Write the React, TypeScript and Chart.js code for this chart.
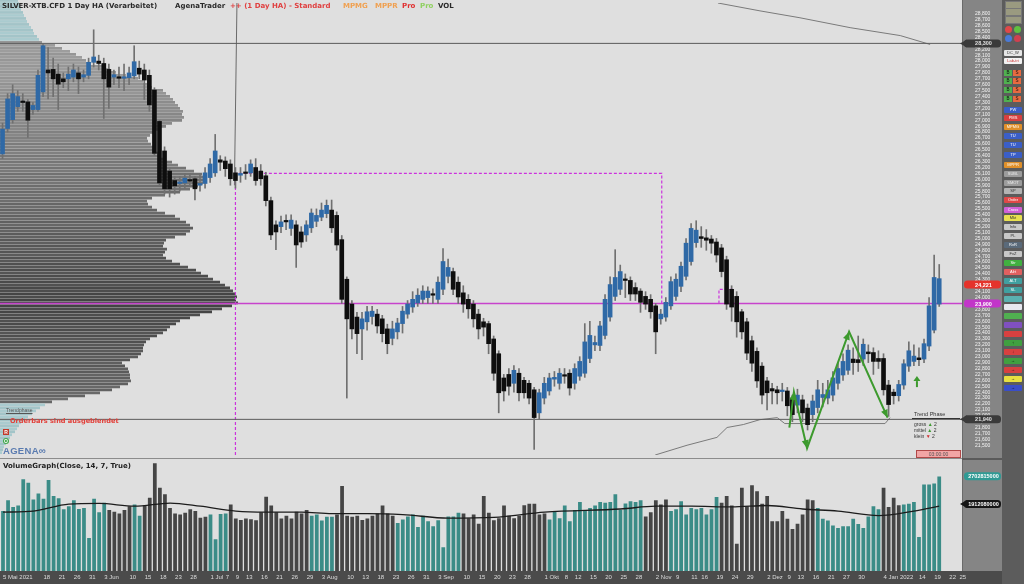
import React, { useEffect, useRef } from 'react';
import { Chart, registerables } from 'chart.js';

Chart.register(...registerables);

const FONT = '"Liberation Sans", Arial, sans-serif';
const TITLE_FONT = '"DejaVu Sans", Verdana, sans-serif';
const SLOTS = 190;
const PRICE_MIN = 21337;
const PRICE_MAX = 28983;
const VOL_MAX = 3.17e9;

const BG = '#dfdfdf';
const AXIS_BG = '#858585';
const TOOL_BG = '#5c5c5c';
const STRIP_BG = '#4b4b4b';
const BLUE = '#2f69a6';
const BLACK = '#0e0e0e';
const WICK = '#707070';
const TEAL = '#3b8c87';
const DARK = '#454545';
const GREEN = '#3d9a2e';
const MAGENTA = '#c743cc';

// ---- x axis tick labels: [slot index, text]
const xTicks = [
  [0, '5 Mai 2021'], [8, '18'], [11, '21'], [14, '26'], [17, '31'], [20, '3 Jun'], [25, '10'], [28, '15'], [31, '18'], [34, '23'], [37, '28'],
  [41, '1 Jul'], [44, '7'], [46, '9'], [48, '13'], [51, '16'], [54, '21'], [57, '26'], [60, '29'],
  [63, '3 Aug'], [68, '10'], [71, '13'], [74, '18'], [77, '23'], [80, '26'], [83, '31'],
  [86, '3 Sep'], [91, '10'], [94, '15'], [97, '20'], [100, '23'], [103, '28'],
  [107, '1 Okt'], [111, '8'], [113, '12'], [116, '15'], [119, '20'], [122, '25'], [125, '28'],
  [129, '2 Nov'], [133, '9'], [136, '11'], [138, '16'], [141, '19'], [144, '24'], [147, '29'],
  [151, '2 Dez'], [155, '9'], [157, '13'], [160, '16'], [163, '21'], [166, '27'], [169, '30'],
  [174, '4 Jan 2022'], [181, '14'], [184, '19'], [187, '22'], [189, '25'],
];

// ---- Heikin-Ashi candles
const opens = [
  26430, 26860, 27010, 27230, 27320, 27310, 27180, 27180, 27480, 27850,
  27860, 27780, 27700, 27700, 27730, 27800, 27730, 27760, 27980, 28000,
  27960, 27860, 27730, 27730, 27710, 27720, 27750, 27880, 27850, 27760,
  27510, 26980, 26480, 26140, 25980, 25930, 25940, 25990, 26010, 25900,
  25930, 26030, 26110, 26330, 26310, 26260, 26110, 26070, 26110, 26110,
  26200, 26140,
  26060, 25640, 25230, 25200, 25290, 25170, 25230, 25110, 25060, 25180,
  25290, 25360, 25420, 25480, 25390, 24980, 24310, 23890, 23670, 23470,
  23590, 23680, 23720, 23640, 23470, 23310, 23420, 23560, 23720, 23840,
  23910, 23970, 24000, 24060, 23970, 24140, 24360, 24440, 24260, 24080,
  23970, 23890, 23720, 23590, 23560, 23300, 23050, 22640, 22700, 22550,
  22720, 22600, 22550, 22440, 22050, 22300, 22420, 22620, 22550, 22690,
  22720, 22550, 22670,
  22720, 22970, 23200, 23190, 23360, 23670, 24020, 24140, 24300, 24290,
  24170, 24110, 24020, 23970, 23860, 23640, 23670, 23860, 24020, 24190,
  24360, 24610, 24930, 25030, 25010, 24990, 24940, 24840, 24640, 24140,
  24020, 23760, 23590, 23270, 23090, 22840, 22590, 22460, 22440, 22410,
  22420, 22300, 22180, 22270, 22130, 22020, 22140, 22310, 22300, 22350,
  22550, 22690, 22770, 22960, 22950, 22960, 23080, 23070, 22970, 22970,
  22520, 22400, 22340, 22520, 22840, 22920, 22980, 22960, 23180, 23450,
  23890,
];
const closes = [
  26850, 27360, 27450, 27400, 27300, 27000, 27250, 27760, 28260, 27800,
  27700, 27610, 27650, 27780, 27850, 27700, 27770, 27980, 28070, 27960,
  27700, 27560, 27770, 27710, 27730, 27800, 27990, 27780, 27680, 27260,
  26440, 25940, 25840, 25840, 25890, 25940, 26020, 25970, 25840, 25930,
  26110, 26260, 26480, 26290, 26180, 26010, 25980, 26100, 26100, 26260,
  25980, 26010,
  25640, 25060, 25110, 25280, 25280, 25310, 24890, 24940, 25230, 25430,
  25390, 25480, 25560, 25180, 24890, 23970, 23640, 23470, 23390, 23640,
  23760, 23770, 23520, 23390, 23220, 23470, 23570, 23770, 23890, 23970,
  24040, 24110, 24110, 24040, 24260, 24610, 24510, 24140, 24010, 23890,
  23810, 23640, 23470, 23500, 23220, 22720, 22390, 22420, 22500, 22770,
  22390, 22390, 22300, 21970, 22390, 22550, 22640, 22650, 22720, 22670,
  22470, 22800, 22920,
  23250, 23360, 23240, 23520, 23970, 24220, 24340, 24440, 24290, 24060,
  24060, 23920, 23890, 23760, 23420, 23720, 23920, 24270, 24310, 24530,
  24920, 25170, 25140, 25000, 24970, 24920, 24720, 24440, 23890, 23840,
  23590, 23420, 23060, 22890, 22590, 22350, 22390, 22420, 22390, 22420,
  22170, 22020, 22350, 22050, 21850, 22250, 22440, 22360, 22440, 22640,
  22800, 22920, 23110, 22900, 22900, 23210, 23050, 22920, 22920, 22440,
  22190, 22340, 22530, 22880, 23100, 23010, 22950, 23220, 23860, 24340,
  24320,
];
const highs = [
  26950, 27450, 27600, 27500, 27450, 27350, 27300, 27850, 28280, 28230,
  28050, 27950, 27800, 27900, 27950, 27900, 27850, 28050, 28530, 28100,
  28050, 27950, 27850, 27900, 27950, 27900, 28260, 28000, 27950, 27850,
  27550, 27000, 26550, 26200, 26050, 26050, 26100, 26100, 26050, 26100,
  26200, 26350, 26760, 26400, 26380, 26330, 26200, 26200, 26250, 26330,
  26350, 26250,
  26120, 25700, 25300, 25380, 25400, 25400, 25300, 25200, 25300, 25500,
  25500, 25600, 25650, 25650, 25450, 25050, 24350, 23950, 23750, 23750,
  23850, 23850, 23800, 23700, 23550, 23600, 23650, 23850, 23950, 24100,
  24150, 24200, 24180, 24150, 24350, 24830, 24650, 24500, 24350, 24200,
  24050, 23950, 23800, 23650, 23600, 23350, 23100, 22700, 22800, 22850,
  22800, 22650, 22600, 22480, 22450, 22650, 22720, 22750, 22800, 22800,
  22780, 22880, 23000,
  23560, 23600, 23350, 23600, 24050, 24350, 24810, 24550, 24400, 24350,
  24250, 24150, 24100, 24050, 23900, 23800, 24000, 24350, 24400, 24600,
  25000, 25250, 25300, 25200, 25150, 25050, 25000, 24900, 24700, 24200,
  24100, 23800, 23650, 23350, 23150, 22900, 22650, 22550, 22500, 22550,
  22480, 22350, 22450, 22350, 22200, 22350, 22600, 22550, 22600, 22750,
  22900, 23050, 23200, 23150, 23350, 23300, 23200, 23150, 23100, 23050,
  22600, 22450, 22600, 22950, 23250, 23200, 23150, 23300, 24000, 24720,
  24560,
];
const lows = [
  26350, 26800, 26950, 27150, 27150, 26710, 27100, 27150, 27400, 27360,
  27400, 27180, 27550, 27500, 27650, 27450, 27650, 27700, 27900, 27850,
  27030, 27200, 27600, 27550, 27500, 27600, 27700, 27700, 27350, 27150,
  26400, 25900, 25750, 25700, 25750, 25800, 25850, 25900, 25650, 25800,
  25850, 25950, 26050, 26150, 26050, 25900, 25850, 25950, 26000, 26050,
  25900, 25900,
  25550, 24980, 24810, 25100, 25150, 25050, 24510, 24850, 24950, 25100,
  25200, 25300, 25350, 25100, 24800, 23900, 22300, 23300, 23050, 22950,
  23450, 23550, 23400, 23250, 23050, 23200, 23300, 23400, 23650, 23750,
  23850, 23900, 23900, 23900, 23900, 24050, 24250, 24050, 23900, 23750,
  23650, 23500, 23300, 23350, 23050, 22600, 22050, 22250, 22350, 22400,
  22250, 22300, 22200, 21430, 21950, 22200, 22350, 22500, 22450, 22550,
  22350, 22450, 22600,
  22650, 22900, 23100, 23100, 23300, 23600, 23950, 24050, 24000, 23950,
  23950, 23750, 23800, 23650, 23050, 23550, 23600, 23800, 23950, 24100,
  24300, 24550, 24850, 24850, 24800, 24750, 24600, 24350, 23800, 23600,
  23330, 23300, 22950, 22750, 22480, 22200, 22100, 22200, 22200, 22250,
  22000, 21900, 22050, 21900, 21760, 21900, 22050, 22150, 22200, 22250,
  22450, 22600, 22700, 22700, 22750, 22850, 22900, 22700, 22800, 22350,
  21990, 22200, 22250, 22450, 22750, 22850, 22850, 22900, 23100, 23400,
  23850,
];

// ---- Volume (millions)
const volumesM = [
  1710, 2020, 1830, 1870, 2620, 2520, 2040, 2210, 2060, 2600,
  2140, 2080, 1760, 1850, 2020, 1770, 1800, 940, 2060, 1680,
  1950, 1740, 1690, 1640, 1740, 1850, 1900, 1580, 1870, 2090,
  3080, 2380, 2190, 1800, 1640, 1610, 1660, 1760, 1710, 1520,
  1550, 1610, 910, 1630, 1640, 1900, 1500, 1460, 1500, 1480,
  1450, 1680, 2120, 1870, 1680, 1500, 1580, 1500, 1690, 1640,
  1740, 1580, 1610, 1440, 1550, 1550, 1610, 2430, 1580, 1550,
  1580, 1460, 1500, 1580, 1640, 1870, 1640, 1580, 1370,
  1470, 1560, 1610, 1260, 1580, 1420, 1280, 1450, 680, 1560,
  1560, 1660, 1640, 1510, 1610, 1350, 2140, 1660, 1450, 1510,
  1870, 1580, 1510, 1580, 1880, 1920, 1920, 1610, 1640, 1470,
  1710, 1510, 1870, 1420, 1740, 1970, 1710, 1800, 1870, 1970,
  1950, 1970, 2190, 1740, 1930, 1990, 1970, 2020, 1560, 1680,
  2020, 1900, 2040, 1710, 1760, 1990, 1610, 1800, 1760, 1800,
  1610, 1760, 2110, 1950, 2140, 1870, 780, 2380, 1850, 2450,
  2280, 1920, 2140, 1420, 1420, 1710, 1490, 1200, 1350, 1610,
  2040, 2020, 1800, 1490, 1440, 1300, 1230, 1280, 1280, 1490,
  1340, 1230, 1560, 1850, 1760, 2380, 1830, 2090, 1880, 1900,
  1920, 1970, 970, 2470, 2470, 2500, 2700,
];
// runs of [count, 1 = rising (teal) / 0 = falling (dark)]
const volumeRuns = [[21, 1], [5, 0], [2, 1], [13, 0], [4, 1], [16, 0], [5, 1], [12, 0], [13, 1], [17, 0], [19, 1], [5, 0], [10, 1], [19, 0], [13, 1], [4, 0], [8, 1]];
// volume average line: [bar index, millions]
const volumeAvg = [
  [0, 1680], [6, 1710], [13, 1910], [19, 1930], [26, 1850], [33, 1940], [39, 1850], [46, 1710], [52, 1680],
  [59, 1680], [65, 1640], [72, 1640], [79, 1610], [88, 1510], [97, 1530], [107, 1680], [122, 1770], [129, 1850],
  [136, 1850], [144, 1830], [151, 1870], [158, 1770], [165, 1710], [173, 1580], [180, 1710], [185, 1850],
];

// ---- Volume profile (relative volume per 50-point price bin, from 28950 downwards)
const PROFILE_TOP = 28950;
const PROFILE_STEP = 50;
const profileVolume = [
  18, 19, 20, 21, 23, 24, 26, 27, 29, 31, 33, 34, 37, 39,
  42, 55, 62, 70, 76, 82, 86, 90, 104, 110, 116, 126, 138, 143, 148, 152,
  163, 166, 170, 173, 175, 178, 180, 183, 182, 184, 182, 172, 166, 158, 154, 150,
  147, 148, 151, 153, 156, 158, 160, 166, 172, 178, 186, 194, 202, 204, 205, 203,
  198, 190, 180, 165, 152, 147, 148, 152, 157, 165, 175, 180, 186, 190, 193, 190,
  186, 175, 166, 164, 163, 167, 165, 163, 166, 172, 180, 188, 196, 201, 208, 213,
  220, 225, 230, 233, 236, 237, 236, 238, 232, 222, 212, 200, 190, 180, 176, 170,
  167, 163, 157, 150, 146, 144, 143, 143, 141, 138, 130, 122, 125, 128, 129, 130,
  130, 131, 128, 120, 112, 100, 85, 68, 52, 45, 40, 36, 32, 28, 25, 21,
  19, 17, 15, 12, 10, 8, 6, 4, 3, 2,
];
const POC_BIN = 101;

// ---- Levels and drawings (x in bar-slot units, y in price)
const levelHigh = 28300;
const levelLow = 21940;
const levelPoc = 23900;
const lastPrice = 24221;
const lastVolume = 2702815000;
const lastVolumeAvg = 1912080000;
const zigzag = [[155.4, 21802], [156.3, 22403], [158.9, 21452], [167.2, 23422], [174.8, 21969]];
const upArrow = [180.6, 22570];
const dashedBox = [[46, PRICE_MIN], [46, 26100], [130.2, 26100], [130.2, 23900]];
const dashedSmall = [[141.5, 23900], [141.5, 24140], [144.5, 24140]];
const cursorLine = [[46.3, PRICE_MAX], [45.8, 25900]];
const topLine = [[141.3, 28983], [149.6, 28850], [157.5, 28733], [167.4, 28566], [177.3, 28432], [183.2, 28282]];
const trailLine = [[128.9, 21337], [135.2, 21502], [141.1, 21635], [143.1, 21802], [146.3, 21852], [149.6, 21935], [153.0, 21969], [154.5, 21869], [174.3, 21869], [175.3, 21969]];

const toolbar = [
  [50, '#e6e6e6', 'DC_W', '#333'], [58, '#f2f2f2', 'Lab-tri', '#c33'],
  [107, '#3a5ec8', 'PW', '#fff'], [115, '#d84040', 'PMS', '#fff'], [124, '#e0902a', 'MPMG', '#fff'],
  [133, '#3a5ec8', 'TU', '#fff'], [142, '#3a5ec8', 'TU', '#fff'], [152, '#3a5ec8', 'TP', '#fff'],
  [162, '#e0902a', 'MPPR', '#fff'], [171, '#9c9c9c', 'SUBL', '#eee'], [180, '#9c9c9c', 'SMOT', '#eee'],
  [188, '#b4b4b4', 'SP', '#333'], [197, '#e04848', 'Order', '#fff'], [207, '#d060d8', 'Cross', '#fff'],
  [215, '#e8e050', 'Mkt', '#333'], [224, '#c8c8c8', 'Info', '#333'], [233, '#c8c8c8', 'PL', '#333'],
  [242, '#5a6a7a', 'RvR', '#fff'], [251, '#c8c8c8', 'FvZ', '#333'], [260, '#40b040', 'Str', '#fff'],
  [269, '#e06060', 'Alrt', '#fff'], [278, '#40a0a0', 'ALT', '#fff'], [287, '#40a0a0', 'SL', '#fff'],
  [296, '#5ab0b0', '', '#fff'], [304, '#e8e8f0', '', '#333'], [313, '#50b050', '', '#fff'],
  [322, '#8050c0', '', '#fff'], [331, '#d84040', '', '#fff'], [340, '#40a040', '↑', '#111'],
  [349, '#d84040', '↓', '#111'], [358, '#40a040', '→', '#111'], [367, '#d84040', '→', '#111'],
  [376, '#e8e040', '→', '#111'], [385, '#3a4ec8', '→', '#111'],
];
const toolbarPairs = [70, 78, 87, 96];

function pill(ctx, x1, x2, y, bg, fg, text, pointer) {
  const h = 8;
  ctx.save();
  ctx.fillStyle = bg;
  ctx.beginPath();
  ctx.roundRect(x1, y - h / 2, x2 - x1, h, 3.5);
  ctx.fill();
  if (pointer) {
    ctx.beginPath();
    ctx.moveTo(x1 - 4, y);
    ctx.lineTo(x1 + 3, y - h / 2);
    ctx.lineTo(x1 + 3, y + h / 2);
    ctx.closePath();
    ctx.fill();
  }
  ctx.fillStyle = fg;
  ctx.font = `bold 5.5px ${FONT}`;
  ctx.textAlign = 'center';
  ctx.textBaseline = 'middle';
  ctx.fillText(text, (x1 + x2) / 2 + 1, y + 0.5);
  ctx.restore();
}

const toXY = (arr) => arr.map(([x, y]) => ({ x, y }));

// hidden tick marks used only to push the labels into the middle of the axis column
const offsetGrid = (len) => ({ display: true, drawOnChartArea: false, drawTicks: true, tickLength: len, tickColor: 'rgba(0,0,0,0)', color: 'rgba(0,0,0,0)' });

export default function App() {
  const profileRef = useRef(null);
  const mainRef = useRef(null);
  const volRef = useRef(null);

  useEffect(() => {
    Chart.defaults.font.family = FONT;
    const slotLabels = Array.from({ length: SLOTS }, () => '');
    xTicks.forEach(([i, t]) => { slotLabels[i] = t; });

    const charts = [];

    // ----- profile
    const profileColors = profileVolume.map((_, k) => {
      const p = PROFILE_TOP - k * PROFILE_STEP;
      const stripe = k % 2 === 0 ? 0 : 7;
      if (p >= 28300 || p < 22250) return `rgb(${163 + stripe},${196 + stripe},${200 + stripe})`;
      const g = Math.round(Math.min(150, 66 + Math.abs(k - POC_BIN) * 1.1) + stripe);
      return `rgb(${g},${g},${g})`;
    });
    charts.push(new Chart(profileRef.current, {
      type: 'bar',
      data: {
        datasets: [{
          data: profileVolume.map((v, k) => ({ x: v, y: PROFILE_TOP + PROFILE_STEP / 2 - k * PROFILE_STEP })),
          backgroundColor: profileColors,
          borderWidth: 0,
          barPercentage: 0.92,
          categoryPercentage: 1,
        }],
      },
      options: {
        indexAxis: 'y', animation: false, responsive: false, devicePixelRatio: 1, events: [],
        layout: { padding: 0 },
        plugins: { legend: { display: false }, tooltip: { enabled: false } },
        scales: {
          x: { type: 'linear', min: 0, max: 962, display: false, offset: false },
          y: { type: 'linear', min: PRICE_MIN, max: PRICE_MAX, display: false, offset: false },
        },
      },
    }));

    // ----- main price chart
    const line = (label, pts, color, width, dash, order) => ({
      type: 'line', label, data: toXY(pts), xAxisID: 'x2', yAxisID: 'y',
      borderColor: color, borderWidth: width, borderDash: dash, pointRadius: 0, tension: 0, order, fill: false,
    });
    const mainPlugin = {
      id: 'mainDecor',
      afterDatasetsDraw(chart) {
        const ctx = chart.ctx;
        const idx = chart.data.datasets.findIndex((d) => d.label === 'zigzag');
        const pts = chart.getDatasetMeta(idx).data;
        ctx.save();
        ctx.fillStyle = GREEN;
        for (let j = 1; j < pts.length; j++) {
          const a = pts[j - 1];
          const b = pts[j];
          const ang = Math.atan2(b.y - a.y, b.x - a.x);
          const L = 8;
          const W = 3.5;
          const c = Math.cos(ang);
          const s = Math.sin(ang);
          ctx.beginPath();
          ctx.moveTo(b.x, b.y);
          ctx.lineTo(b.x - L * c + W * s, b.y - L * s - W * c);
          ctx.lineTo(b.x - L * c - W * s, b.y - L * s + W * c);
          ctx.closePath();
          ctx.fill();
        }
        const ax = chart.scales.x2.getPixelForValue(upArrow[0]);
        const ay = chart.scales.y.getPixelForValue(upArrow[1]);
        ctx.fillRect(ax - 1, ay - 1, 2, 6);
        ctx.beginPath();
        ctx.moveTo(ax, ay - 6);
        ctx.lineTo(ax - 3.5, ay - 1);
        ctx.lineTo(ax + 3.5, ay - 1);
        ctx.closePath();
        ctx.fill();
        ctx.restore();
      },
      afterDraw(chart) {
        const ctx = chart.ctx;
        const x1 = chart.chartArea.right + 2;
        const x2 = chart.width - 1;
        const y = chart.scales.y;
        pill(ctx, x1, x2, y.getPixelForValue(levelHigh), '#3a3a3a', '#e0e0e0', '28,300', true);
        pill(ctx, x1, x2, y.getPixelForValue(lastPrice), '#e5332b', '#ffffff', '24,221', false);
        pill(ctx, x1, x2, y.getPixelForValue(levelPoc), '#c235c9', '#ffffff', '23,900', false);
        pill(ctx, x1, x2, y.getPixelForValue(levelLow), '#3a3a3a', '#e0e0e0', '21,940', true);
      },
    };
    const bodyColors = opens.map((o, i) => (closes[i] >= o ? BLUE : BLACK));
    charts.push(new Chart(mainRef.current, {
      type: 'bar',
      data: {
        labels: slotLabels,
        datasets: [
          line('zigzag', zigzag, GREEN, 2, [], 0),
          { type: 'bar', label: 'body', data: opens.map((o, i) => [o, closes[i]]), backgroundColor: bodyColors, barThickness: 4, minBarLength: 1.5, grouped: false, borderWidth: 0, order: 1 },
          { type: 'bar', label: 'wick', data: lows.map((l, i) => [l, highs[i]]), backgroundColor: WICK, barThickness: 1, grouped: false, borderWidth: 0, order: 2 },
          line('poc', [[-0.5, levelPoc], [SLOTS - 0.5, levelPoc]], MAGENTA, 1.5, [], 3),
          line('high', [[-0.5, levelHigh], [SLOTS - 0.5, levelHigh]], '#5a5a5a', 1, [], 3),
          line('low', [[-0.5, levelLow], [SLOTS - 0.5, levelLow]], '#5a5a5a', 1, [], 3),
          line('box', dashedBox, '#cc33dd', 1.2, [3, 2], 3),
          line('box2', dashedSmall, '#cc33dd', 1.2, [3, 2], 3),
          line('cursor', cursorLine, '#6a6a6a', 1, [], 3),
          line('top', topLine, '#7a7a7a', 1, [], 3),
          line('trail', trailLine, '#7a7a7a', 1, [], 3),
        ],
      },
      options: {
        animation: false, responsive: false, devicePixelRatio: 1, events: [],
        layout: { padding: 0 },
        plugins: { legend: { display: false }, tooltip: { enabled: false } },
        scales: {
          x: { type: 'category', display: false, offset: true },
          x2: { type: 'linear', display: false, offset: false, min: -0.5, max: SLOTS - 0.5, grid: { offset: false } },
          y: {
            type: 'linear', position: 'right', min: PRICE_MIN, max: PRICE_MAX,
            grid: offsetGrid(13), border: { display: false },
            afterFit: (s) => { s.width = 40; },
            ticks: {
              stepSize: 100, autoSkip: false, color: '#f4f4f4', font: { size: 5, family: FONT }, padding: 0, crossAlign: 'center',
              callback: (v) => {
                const n = Number(v);
                return n % 100 === 0 && n >= 21500 && n <= 28900 ? n.toLocaleString('en-US') : null;
              },
            },
          },
        },
      },
      plugins: [mainPlugin],
    }));

    // ----- volume chart
    const volColors = [];
    volumeRuns.forEach(([n, up]) => { for (let i = 0; i < n; i++) volColors.push(up ? TEAL : DARK); });
    const avgData = volumesM.map(() => null);
    volumeAvg.forEach(([i, v]) => { avgData[i] = v * 1e6; });
    const volPlugin = {
      id: 'volDecor',
      afterDraw(chart) {
        const ctx = chart.ctx;
        const x1 = chart.chartArea.right + 2;
        const x2 = chart.width - 1;
        const y = chart.scales.y;
        pill(ctx, x1, x2, y.getPixelForValue(lastVolume), '#2f9a94', '#ffffff', '2702815000', false);
        pill(ctx, x1, x2, y.getPixelForValue(lastVolumeAvg), '#161616', '#ffffff', '1912080000', true);
      },
    };
    charts.push(new Chart(volRef.current, {
      type: 'bar',
      data: {
        labels: slotLabels,
        datasets: [
          { type: 'line', data: avgData, spanGaps: true, borderColor: '#1c1c1c', borderWidth: 1.3, pointRadius: 0, cubicInterpolationMode: 'monotone', order: 0 },
          { type: 'bar', data: volumesM.map((v) => v * 1e6), backgroundColor: volColors, barPercentage: 0.74, categoryPercentage: 1, borderWidth: 0, order: 1 },
        ],
      },
      options: {
        animation: false, responsive: false, devicePixelRatio: 1, events: [],
        layout: { padding: 0 },
        plugins: { legend: { display: false }, tooltip: { enabled: false } },
        scales: {
          x: {
            type: 'category', offset: true, grid: { display: false, drawTicks: false }, border: { display: false },
            afterFit: (s) => { s.height = 13; },
            ticks: { autoSkip: false, maxRotation: 0, minRotation: 0, align: 'start', color: '#dcdcdc', font: { size: 6, family: FONT }, padding: 3 },
          },
          y: {
            type: 'linear', position: 'right', min: 0, max: VOL_MAX,
            grid: offsetGrid(6), border: { display: false },
            afterFit: (s) => { s.width = 40; },
            ticks: {
              stepSize: 5e8, autoSkip: false, color: '#f4f4f4', font: { size: 5, family: FONT }, padding: 0, crossAlign: 'center',
              callback: (v) => {
                const n = Number(v);
                return n > 0 && n <= 3e9 && n % 5e8 === 0 && n !== 2e9 ? String(n) : null;
              },
            },
          },
        },
      },
      plugins: [volPlugin],
    }));

    return () => charts.forEach((c) => c.destroy());
  }, []);

  const abs = (l, t, w, h, extra) => ({ position: 'absolute', left: l, top: t, width: w, height: h, ...extra });
  const titleParts = [
    [2, 'SILVER-XTB.CFD 1 Day HA (Verarbeitet)', '#2a2a2a'],
    [175, 'AgenaTrader', '#2a2a2a'],
    [230, '++ (1 Day HA) - Standard', '#e04040'],
    [343, 'MPMG', '#f0a050'],
    [375, 'MPPR', '#f0a050'],
    [402, 'Pro', '#e03030'],
    [420, 'Pro', '#8fd060'],
    [438, 'VOL', '#2a2a2a'],
  ];

  return (
    <div style={{ position: 'fixed', left: 0, top: 0, width: 1024, height: 584, overflow: 'hidden', background: BG, fontFamily: FONT }}>
      <div style={abs(962, 0, 40, 572, { background: AXIS_BG })} />
      <div style={abs(962, 0, 1, 572, { background: '#6a6a6a' })} />
      <div style={abs(0, 571, 1002, 13, { background: STRIP_BG })} />
      <div style={abs(1002, 0, 22, 584, { background: TOOL_BG })} />
      <div style={abs(0, 458, 962, 1, { background: '#8c8c8c' })} />
      <div style={abs(962, 458, 40, 2, { background: '#5a5a5a' })} />

      <canvas ref={profileRef} width={962} height={458} style={{ position: 'absolute', left: 0, top: 0, width: 962, height: 458 }} />
      <canvas ref={mainRef} width={1002} height={458} style={{ position: 'absolute', left: 0, top: 0, width: 1002, height: 458 }} />
      <canvas ref={volRef} width={1002} height={124} style={{ position: 'absolute', left: 0, top: 460, width: 1002, height: 124 }} />

      {titleParts.map(([l, t, c], i) => (
        <div key={i} style={{ position: 'absolute', left: l, top: 1, fontFamily: TITLE_FONT, fontSize: 7, fontWeight: 'bold', color: c, whiteSpace: 'nowrap', lineHeight: '10px' }}>{t}</div>
      ))}

      <div style={{ position: 'absolute', left: 6, top: 407, fontSize: 5, color: '#555', textDecoration: 'underline', whiteSpace: 'nowrap' }}>Trendphase</div>
      <div style={{ position: 'absolute', left: 10, top: 417, fontFamily: TITLE_FONT, fontSize: 6.6, fontWeight: 'bold', color: '#e2403a', whiteSpace: 'nowrap', lineHeight: '9px' }}>Orderbars sind ausgeblendet</div>
      <div style={{ ...abs(3, 429, 6, 6, { background: '#c0392b', color: '#fff', fontSize: 5, fontWeight: 'bold', textAlign: 'center', lineHeight: '6px' }) }}>R</div>
      <div style={{ ...abs(3, 438, 6, 6, { background: '#3fa64a', color: '#fff', fontSize: 5, fontWeight: 'bold', textAlign: 'center', lineHeight: '6px', borderRadius: 3 }) }}>O</div>
      <div style={{ position: 'absolute', left: 3, top: 445, fontSize: 9.5, fontWeight: 'bold', color: '#5a7bb0', whiteSpace: 'nowrap', lineHeight: '11px', letterSpacing: 0.3 }}>AGENA∞</div>
      <div style={{ position: 'absolute', left: 3, top: 461, fontFamily: TITLE_FONT, fontSize: 7, fontWeight: 'bold', color: '#222', whiteSpace: 'nowrap', lineHeight: '10px' }}>VolumeGraph(Close, 14, 7, True)</div>

      <div style={{ position: 'absolute', left: 914, top: 411, fontSize: 5.5, color: '#333', whiteSpace: 'nowrap', lineHeight: '6px' }}>Trend Phase</div>
      <div style={abs(912, 418, 48, 1, { background: '#333' })} />
      {[['gross', '▲', GREEN], ['mittel', '▲', GREEN], ['klein', '▼', '#d03030']].map(([t, a, c], i) => (
        <div key={t} style={{ position: 'absolute', left: 914, top: 421 + i * 6, fontSize: 5, color: '#333', whiteSpace: 'nowrap', lineHeight: '6px' }}>
          {t} <span style={{ color: c }}>{a}</span> 2
        </div>
      ))}
      <div style={{ ...abs(916, 450, 43, 6, { background: '#f2a5a5', border: '1px solid #b04848', fontSize: 5, color: '#555', textAlign: 'center', lineHeight: '6px' }) }}>03:00:00</div>

      {[1, 8, 16].map((t) => (
        <div key={t} style={abs(1005, t, 15, 6, { background: '#9a9a80', border: '1px solid #777' })} />
      ))}
      <div style={abs(1005, 26, 7, 7, { background: '#e04848', borderRadius: 4 })} />
      <div style={abs(1014, 26, 7, 7, { background: '#60c040', borderRadius: 4 })} />
      <div style={abs(1005, 35, 7, 7, { background: '#4a7ad8', borderRadius: 4 })} />
      <div style={abs(1014, 35, 7, 7, { background: '#d04050', borderRadius: 4 })} />
      {toolbarPairs.map((t) => (
        <React.Fragment key={t}>
          <div style={abs(1004, t, 8, 6, { background: '#50b050', color: '#111', fontSize: 4.5, textAlign: 'center', lineHeight: '6px' })}>B</div>
          <div style={abs(1013, t, 8, 6, { background: '#e86a40', color: '#111', fontSize: 4.5, textAlign: 'center', lineHeight: '6px' })}>S</div>
        </React.Fragment>
      ))}
      {toolbar.map(([t, bg, label, fg], i) => (
        <div key={i} style={abs(1004, t, 18, 6, { background: bg, color: fg, fontSize: 4, textAlign: 'center', lineHeight: '6px', whiteSpace: 'nowrap', overflow: 'hidden', borderRadius: 1 })}>{label}</div>
      ))}
    </div>
  );
}
